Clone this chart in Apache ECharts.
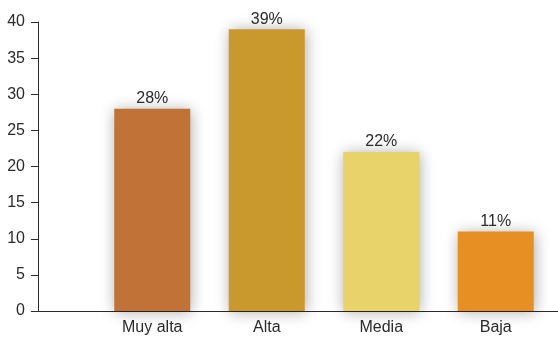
<!DOCTYPE html>
<html>
<head>
<meta charset="utf-8">
<script src="https://cdn.jsdelivr.net/npm/echarts@6/dist/echarts.min.js"></script>
<style>
  html, body { margin: 0; padding: 0; background: #fff; }
  #chart { width: 558px; height: 338px; }
</style>
</head>
<body>
<div id="chart"></div>
<script>
// Nivel de valoración: porcentaje por categoría
const categories = ['Muy alta', 'Alta', 'Media', 'Baja'];
const values = [28, 39, 22, 11];
const barColors = ['#C17337', '#C9992E', '#E8D26A', '#E88F24'];
const yTicks = { min: 0, max: 40, interval: 5 };

const FONT = 'Liberation Sans, Arial, Helvetica, sans-serif';
const TEXT = '#2b2b2b';
const LINE = '#2b2b2b';

const chart = echarts.init(document.getElementById('chart'), null, { renderer: 'canvas' });

chart.setOption({
  animation: false,
  backgroundColor: '#ffffff',
  grid: [
    // frame: vertical value axis and the full-width baseline
    { left: 38, right: 0, top: 22, bottom: 27 },
    // plotting area for the bars
    { left: 95, right: 5, top: 22, bottom: 27 }
  ],
  xAxis: [
    {
      gridIndex: 0,
      type: 'category',
      data: [''],
      axisLine: { show: true, lineStyle: { color: LINE, width: 1 } },
      axisTick: { show: false },
      axisLabel: { show: false }
    },
    {
      gridIndex: 1,
      type: 'category',
      data: categories,
      axisLine: { show: false },
      axisTick: { show: false },
      axisLabel: { color: TEXT, fontFamily: FONT, fontSize: 16, margin: 9 }
    }
  ],
  yAxis: [
    {
      gridIndex: 0,
      type: 'value',
      min: yTicks.min,
      max: yTicks.max,
      interval: yTicks.interval,
      axisLine: { show: true, lineStyle: { color: LINE, width: 1 } },
      axisTick: { show: true, length: 7, lineStyle: { color: LINE, width: 1 } },
      axisLabel: { color: TEXT, fontFamily: FONT, fontSize: 16, margin: 13 },
      splitLine: { show: false }
    },
    {
      gridIndex: 1,
      type: 'value',
      min: yTicks.min,
      max: yTicks.max,
      interval: yTicks.interval,
      show: false
    }
  ],
  series: [
    {
      type: 'bar',
      xAxisIndex: 1,
      yAxisIndex: 1,
      barWidth: 76,
      data: values.map((v, i) => ({
        value: v,
        itemStyle: { color: barColors[i] }
      })),
      itemStyle: {
        shadowColor: 'rgba(0,0,0,0.33)',
        shadowBlur: 14,
        shadowOffsetX: 1,
        shadowOffsetY: 1
      },
      label: {
        show: true,
        position: 'top',
        distance: 2,
        color: TEXT,
        fontFamily: FONT,
        fontSize: 16,
        formatter: p => p.value + '%'
      }
    }
  ]
});
</script>
</body>
</html>
